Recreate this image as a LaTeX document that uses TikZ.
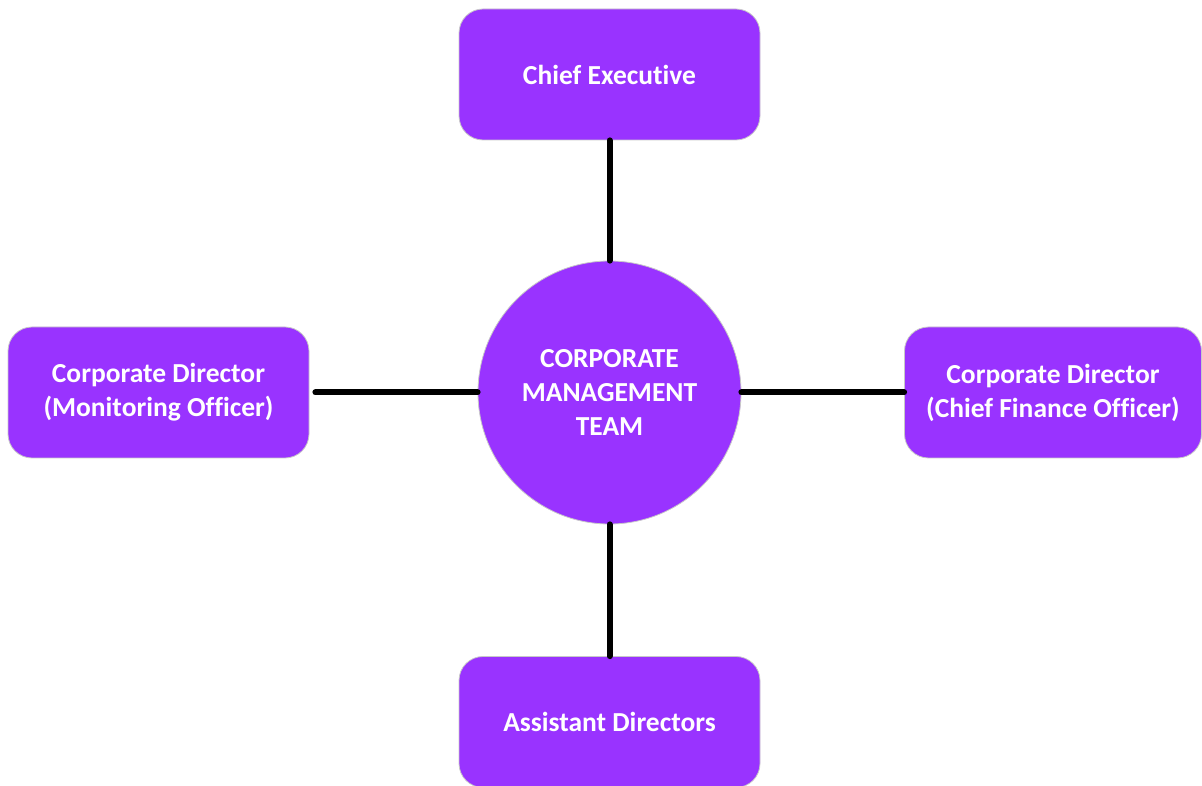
\documentclass[tikz,border=0pt]{standalone}
\usepackage{fontspec}
\setmainfont{Carlito}[Ligatures=NoCommon]
\definecolor{teampurple}{HTML}{9933FF}
\definecolor{edgegrey}{HTML}{C8C8C8}

\begin{document}
\begin{tikzpicture}[x=1pt, y=1pt,
    role/.style={rectangle, rounded corners=24pt, fill=teampurple, draw=edgegrey, line width=0.8pt,
        minimum width=301pt, minimum height=131pt, text=white, align=center,
        font=\fontsize{27.5}{34}\selectfont\bfseries},
    hub/.style={circle, fill=teampurple, draw=edgegrey, line width=0.8pt,
        minimum size=263pt, inner sep=0pt, text=white, align=center,
        font=\fontsize{27.5}{34}\selectfont\bfseries},
    link/.style={line width=6pt, line cap=round, black}]
    \useasboundingbox (0,0) rectangle (1202,785);
    \node[hub] (cmt) at (609.5,392.5) {CORPORATE\\MANAGEMENT\\TEAM};
    \node[role] (chief) [above of=cmt, node distance=318pt] {Chief Executive};
    \node[role] (monitor) [left of=cmt, node distance=451pt] {Corporate Director\\(Monitoring Officer)};
    \node[role, minimum width=297pt] (finance) [right of=cmt, node distance=443.5pt] {Corporate Director\\(Chief Finance Officer)};
    \node[role] (assist) [below of=cmt, node distance=329.5pt] {Assistant Directors};
    \draw[link] (cmt) -- (chief);
    \draw[link, shorten >=6pt] (cmt) -- (monitor);
    \draw[link] (cmt) -- (finance);
    \draw[link] (cmt) -- (assist);
\end{tikzpicture}
\end{document}
